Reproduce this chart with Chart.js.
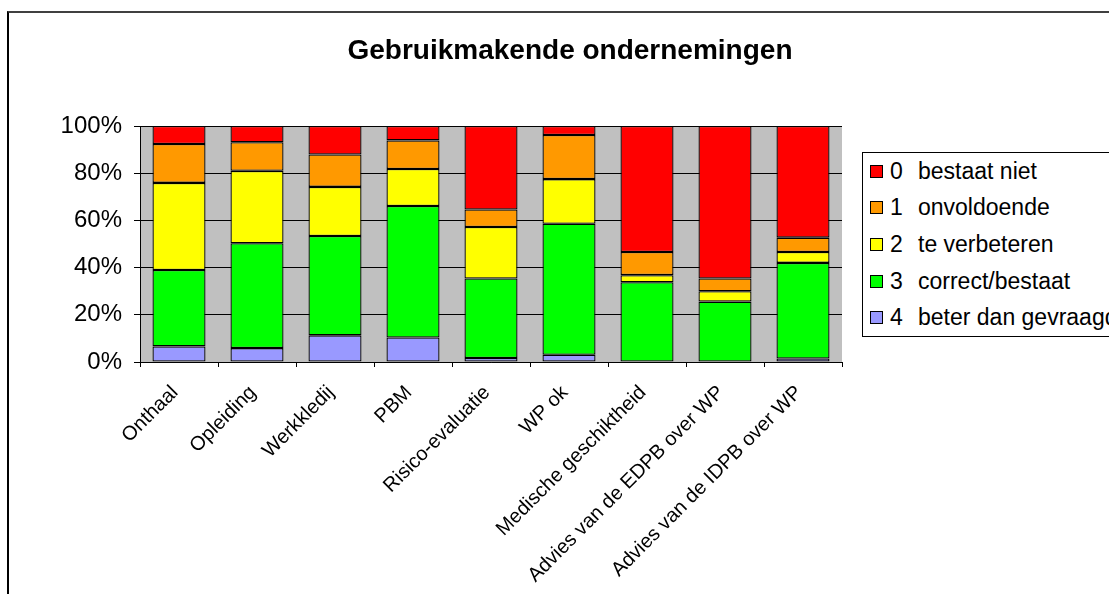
<!DOCTYPE html>
<html>
<head>
<meta charset="utf-8">
<script src="https://cdn.jsdelivr.net/npm/chart.js@4.4.0/dist/chart.umd.min.js"></script>
<style>
  html, body { margin: 0; padding: 0; background: #fff; overflow: hidden; width: 1109px; height: 594px; }
  #frame { position: absolute; left: 7px; top: 11px; width: 1300px; height: 800px;
           border-top: 2px solid #404040; border-left: 2px solid #000; box-sizing: border-box; }
  #wrap { position: absolute; left: 0; top: 0; width: 1109px; height: 594px; }
  #title { position: absolute; left: 0; top: 36px; width: 1140px; text-align: center;
           font-family: "Liberation Sans", Arial, sans-serif; font-weight: bold; font-size: 28px; line-height: 28px; color: #000; }
  #legend { position: absolute; left: 862px; top: 152px; width: 320px; height: 185px;
            border: 1px solid #000; box-sizing: border-box; background: #fff;
            font-family: "Liberation Sans", Arial, sans-serif; font-size: 23px; color: #000; }
  .row { position: relative; height: 36.6px; display: flex; align-items: center; white-space: nowrap; }
  .sw { position: absolute; left: 7px; width: 11px; height: 11px; border: 1px solid #000; }
  .code { position: absolute; left: 27px; }
  .name { position: absolute; left: 55px; }
</style>
</head>
<body>
<div id="frame"></div>
<div id="wrap"><canvas id="c"></canvas></div>
<div id="title"></div>
<div id="legend"></div>
<script>
const chartTitle = "Gebruikmakende ondernemingen";
const categories = ["Onthaal", "Opleiding", "Werkkledij", "PBM", "Risico-evaluatie", "WP ok",
                    "Medische geschiktheid", "Advies van de EDPB over WP", "Advies van de IDPB over WP"];
const seriesCodes = ["0", "1", "2", "3", "4"];
const seriesNames = ["bestaat niet", "onvoldoende", "te verbeteren", "correct/bestaat", "beter dan gevraagd"];
const seriesColors = ["#FF0000", "#FF9900", "#FFFF00", "#00FF00", "#9999FF"];
// percentages per category
const s0_bestaatNiet     = [7.6, 6.9, 12.1, 6.1, 35.4, 3.8, 53.4, 64.6, 47.3];
const s1_onvoldoende     = [16.5, 12.1, 13.7, 12.1, 7.4, 18.7, 9.8, 5.4, 6.1];
const s2_teVerbeteren    = [36.9, 30.7, 20.8, 15.7, 21.8, 18.9, 3.0, 4.4, 4.6];
const s3_correctBestaat  = [32.4, 44.4, 42.1, 55.7, 33.7, 55.5, 33.8, 25.6, 40.5];
const s4_beterDanGevraagd= [6.6, 5.9, 11.3, 10.4, 1.7, 3.1, 0, 0, 1.5];
const yTicks = [0, 20, 40, 60, 80, 100];

const seriesValues = [s0_bestaatNiet, s1_onvoldoende, s2_teVerbeteren, s3_correctBestaat, s4_beterDanGevraagd];

document.getElementById('title').textContent = chartTitle;
const leg = document.getElementById('legend');
for (let i = 0; i < seriesNames.length; i++) {
  const r = document.createElement('div'); r.className = 'row';
  const sw = document.createElement('span'); sw.className = 'sw'; sw.style.background = seriesColors[i];
  const c = document.createElement('span'); c.className = 'code'; c.textContent = seriesCodes[i];
  const n = document.createElement('span'); n.className = 'name'; n.textContent = seriesNames[i];
  r.appendChild(sw); r.appendChild(c); r.appendChild(n); leg.appendChild(r);
}

// datasets: stacked bottom-up from 4 to 0
const datasets = [];
for (let i = seriesNames.length - 1; i >= 0; i--) {
  datasets.push({
    label: seriesCodes[i] + "  " + seriesNames[i],
    data: seriesValues[i],
    backgroundColor: seriesColors[i],
    borderColor: "#000",
    borderWidth: 1.3,
    borderSkipped: false,
    inflateAmount: 0,
    categoryPercentage: 1.0,
    barPercentage: 0.68
  });
}

const plotBg = {
  id: 'plotBg',
  beforeDraw(chart) {
    const a = chart.chartArea, ctx = chart.ctx;
    ctx.save(); ctx.fillStyle = '#C0C0C0';
    ctx.fillRect(a.left, a.top, a.right - a.left, a.bottom - a.top);
    ctx.restore();
  }
};

Chart.defaults.font.family = '"Liberation Sans", Arial, sans-serif';
Chart.defaults.color = '#000';

new Chart(document.getElementById('c'), {
  type: 'bar',
  data: { labels: categories, datasets },
  plugins: [plotBg],
  options: {
    responsive: true, maintainAspectRatio: false, animation: false, devicePixelRatio: 1,
    layout: { padding: { top: 126, right: 267, left: 0, bottom: 0 } },
    plugins: { legend: { display: false }, title: { display: false }, tooltip: { enabled: false } },
    scales: {
      x: {
        stacked: true,
        grid: { offset: true, drawOnChartArea: false, drawTicks: true, tickLength: 5, color: '#000' },
        border: { display: true, color: '#000', width: 1 },
        ticks: { autoSkip: false, minRotation: 45, maxRotation: 45, font: { size: 20 }, color: '#000', padding: 14, labelOffset: -4 },
        afterFit(s) { s.height = 232; }
      },
      y: {
        stacked: true, min: 0, max: 100,
        afterBuildTicks(s) { s.ticks = yTicks.map(v => ({ value: v })); },
        grid: { color: '#000', lineWidth: 1, drawTicks: true, tickLength: 6 },
        border: { display: true, color: '#000', width: 1 },
        ticks: { callback: v => v + '%', font: { size: 24 }, color: '#000', padding: 12 },
        afterFit(s) { s.width = 140; }
      }
    }
  }
});
</script>
</body>
</html>
